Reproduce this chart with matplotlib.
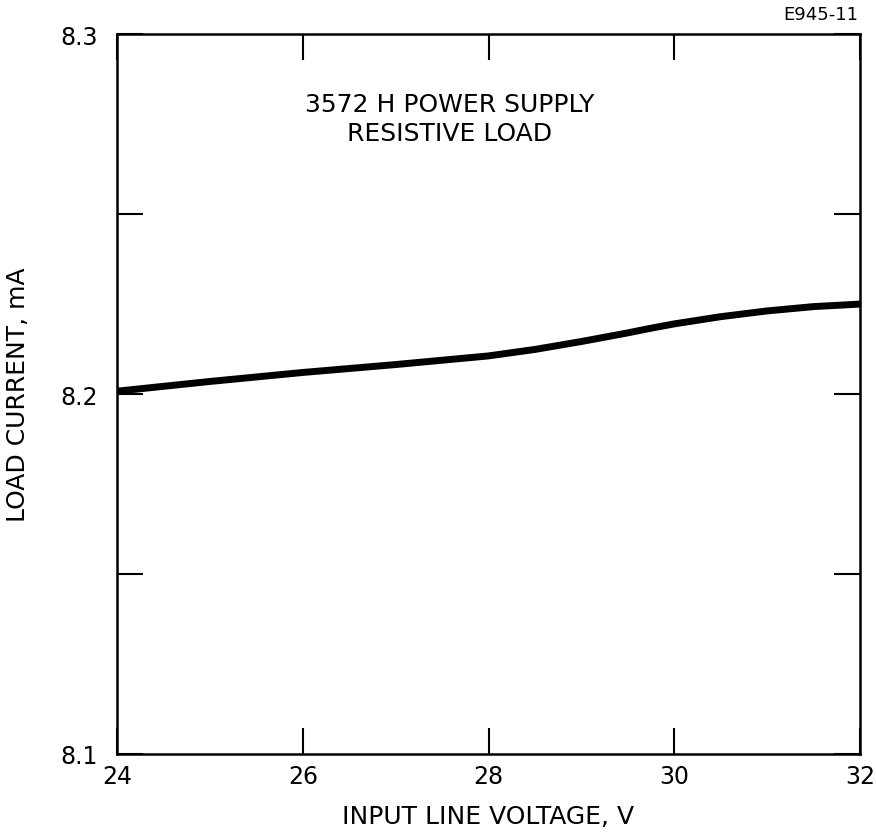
import matplotlib
matplotlib.use("Agg")
import matplotlib.pyplot as plt
import numpy as np

voltage = [24, 25, 26, 27, 28, 28.5, 29, 29.25, 29.5, 29.75, 30, 30.25, 30.5, 30.75, 31, 31.5, 32]
current = [8.2008, 8.2035, 8.206, 8.2082, 8.2106, 8.2124, 8.2146, 8.2158, 8.2170, 8.2183, 8.2195, 8.2205, 8.2215, 8.2223, 8.2231, 8.2243, 8.2250]
xticks = [24, 26, 28, 30, 32]
yticks = [8.1, 8.15, 8.2, 8.25, 8.3]
ytick_labels = ["8.1", "", "8.2", "", "8.3"]

plt.rcParams['font.family'] = ['DejaVu Sans']
fig = plt.figure(figsize=(8.76, 8.37), dpi=100)
ax = fig.add_axes([0.1336, 0.098, 0.8481, 0.860])
ax.plot(voltage, current, color='black', lw=5, solid_capstyle='butt', solid_joinstyle='round')
ax.set_xlim(24, 32)
ax.set_ylim(8.1, 8.3)
ax.set_xticks(xticks)
ax.set_xticklabels([str(v) for v in xticks], fontsize=17)
ax.set_yticks(yticks)
ax.set_yticklabels(ytick_labels, fontsize=17)
ax.tick_params(direction='in', length=19, width=1.5, top=True, right=True)
ax.tick_params(axis='y', pad=14)
ax.tick_params(axis='x', pad=7)
for s in ax.spines.values():
    s.set_linewidth(1.8)
ax.set_xlabel("INPUT LINE VOLTAGE, V", fontsize=18, labelpad=12)
ax.set_ylabel("LOAD CURRENT, mA", fontsize=18, labelpad=22)
ax.text(0.448, 0.883, "3572 H POWER SUPPLY\nRESISTIVE LOAD", transform=ax.transAxes,
        ha='center', va='center', fontsize=18, linespacing=1.25)
fig.text(0.98, 0.982, "E945-11", ha='right', va='center', fontsize=13)
fig.savefig("out.png", dpi=100)
